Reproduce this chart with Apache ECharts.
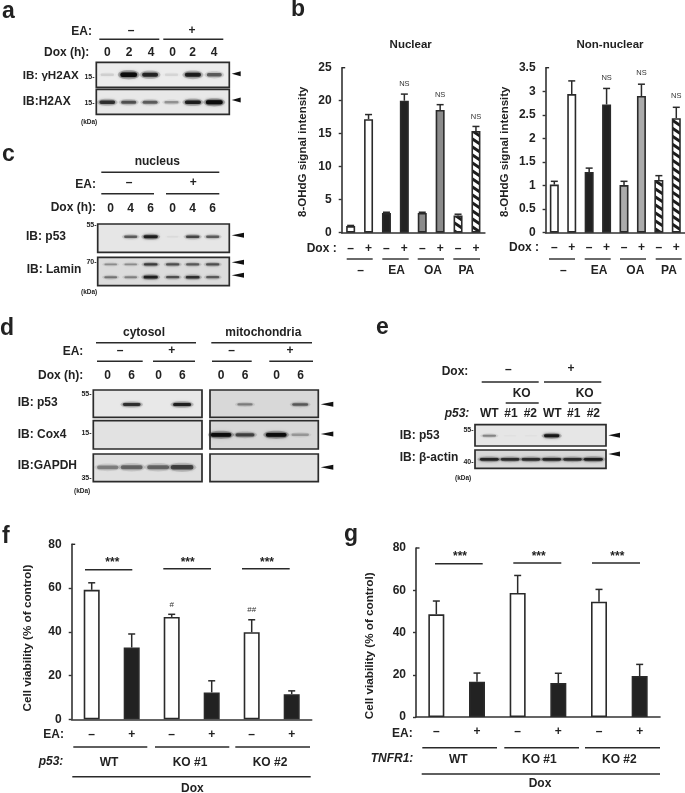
<!DOCTYPE html>
<html>
<head>
<meta charset="utf-8">
<style>
  html, body { margin: 0; padding: 0; background: #fff; }
  #main { width: 685px; height: 793px; }
</style>
<script src="https://cdn.jsdelivr.net/npm/echarts@6/dist/echarts.min.js"></script>
</head>
<body>
<div id="main"></div>
<script>
// bar chart values (b, f, g), top = upper end of the error bar
const doxSigns = ["–", "+", "–", "+", "–", "+", "–", "+"];
const eaSigns = ["–", "+", "–", "+", "–", "+"];
const treatments = ["–", "EA", "OA", "PA"];

const nuclearValues = [1, 17.2, 3, 20, 3, 18.6, 2.6, 15.4];
const nuclearTops = [1.1, 17.9, 3.1, 21, 3.1, 19.4, 2.8, 16.1];
const nuclearNotes = ["", "", "", "NS", "", "NS", "", "NS"];
const nuclearTicks = [0, 5, 10, 15, 20];

const nonNuclearValues = [1.02, 2.94, 1.29, 2.72, 1.01, 2.9, 1.12, 2.43];
const nonNuclearTops = [1.09, 3.22, 1.37, 3.06, 1.09, 3.15, 1.21, 2.66];
const nonNuclearNotes = ["", "", "", "NS", "", "NS", "", "NS"];
const nonNuclearTicks = [0, 0.5, 1, 1.5, 2, 2.5, 3];

const p53Values = [59.2, 32.8, 46.8, 12.3, 39.8, 11.5];
const p53Tops = [62.4, 39, 48, 17.6, 45.5, 13];
const p53Notes = ["", "", "#", "", "##", ""];

const tnfr1Values = [48.6, 16.7, 58.7, 16.1, 54.6, 19.4];
const tnfr1Tops = [54.9, 20.8, 67, 20.7, 60.4, 24.9];
const tnfr1Notes = ["", "", "", "", "", ""];
const viabilityTicks = [0, 20, 40, 60];

// blot band intensities, 0 = no band, 1 = darkest
const aGammaH2ax = [0.1, 0.95, 0.75, 0.08, 0.8, 0.5];
const aH2ax = [0.7, 0.55, 0.5, 0.3, 0.8, 0.98];
const cP53 = [0, 0.5, 0.8, 0.04, 0.6, 0.5];
const cLaminUpper = [0.3, 0.3, 0.65, 0.55, 0.5, 0.55];
const cLaminLower = [0.4, 0.35, 0.8, 0.55, 0.7, 0.5];
const dCytoP53 = [0, 0.7, 0, 0.8];
const dCytoCox4 = [0, 0, 0, 0];
const dCytoGapdh = [0.35, 0.45, 0.45, 0.6];
const dMitoP53 = [0, 0.35, 0, 0.5];
const dMitoCox4 = [0.95, 0.6, 0.95, 0.25];
const dMitoGapdh = [0, 0, 0, 0];
const eP53 = [0.35, 0.02, 0.02, 0.85, 0, 0];
const eActin = [0.75, 0.7, 0.7, 0.75, 0.7, 0.8];

const INK = "#222";
const LINE = "#333";
const FONT = '"Liberation Sans", Arial, sans-serif';

const hatch = () => {
  const c = document.createElement("canvas");
  c.width = 12;
  c.height = 8;
  const g = c.getContext("2d");
  g.fillStyle = "#fff";
  g.fillRect(0, 0, 12, 8);
  g.strokeStyle = "#1c1c1c";
  g.lineWidth = 3;
  g.beginPath();
  for (let i = -16; i <= 16; i += 8) {
    g.moveTo(-12, i - 8);
    g.lineTo(24, i + 16);
  }
  g.stroke();
  return { image: c, repeat: "repeat" };
};

const pattern = hatch();
const fillsB = (grey) => ["#fff", "#fff", "#222", "#222", grey, grey, pattern, pattern];
const fillsF = ["#fff", "#222", "#fff", "#222", "#fff", "#222"];

const grids = [];
const xAxes = [];
const yAxes = [];
const series = [];
const elements = [];

const addBarChart = (box, cfg) => {
  const idx = grids.length;
  grids.push({ left: box[0], top: box[1], width: box[2], height: box[3] });
  xAxes.push({
    gridIndex: idx,
    type: "category",
    data: cfg.signs,
    axisTick: { show: false },
    axisLine: { lineStyle: { color: LINE, width: 1.6 } },
    axisLabel: { interval: 0, margin: cfg.signMargin, color: INK, fontFamily: FONT, fontWeight: "bold", fontSize: 12 }
  });
  yAxes.push({
    gridIndex: idx,
    type: "value",
    min: 0,
    max: cfg.max,
    interval: cfg.interval,
    axisLine: { show: true, lineStyle: { color: LINE, width: 1.6 } },
    axisTick: { show: true, length: 3, customValues: cfg.ticks, lineStyle: { color: LINE, width: 1.4 } },
    axisLabel: { margin: cfg.labelMargin, color: INK, fontFamily: FONT, fontWeight: "bold", fontSize: 12 },
    splitLine: { show: false }
  });
  // the top tick of these axes points inward
  rule(box[0], box[0] + 3.5, box[1], 1.4);
  series.push({
    type: "bar",
    xAxisIndex: idx,
    yAxisIndex: idx,
    barWidth: cfg.barWidth,
    animation: false,
    silent: true,
    data: cfg.values.map((v, i) => ({
      value: v,
      itemStyle: { color: cfg.fills[i], borderColor: "#2a2a2a", borderWidth: 1.6 }
    }))
  });
  series.push({
    type: "custom",
    xAxisIndex: idx,
    yAxisIndex: idx,
    animation: false,
    silent: true,
    clip: false,
    data: cfg.values.map((v, i) => [i, v, cfg.tops[i]]),
    renderItem: (params, api) => {
      const low = api.coord([api.value(0), api.value(1)]);
      const high = api.coord([api.value(0), api.value(2)]);
      const cap = cfg.capWidth / 2;
      const lineStyle = { stroke: "#2a2a2a", lineWidth: 1.5 };
      const children = [
        { type: "line", shape: { x1: low[0], y1: low[1], x2: high[0], y2: high[1] }, style: lineStyle },
        { type: "line", shape: { x1: high[0] - cap, y1: high[1], x2: high[0] + cap, y2: high[1] }, style: lineStyle }
      ];
      const note = cfg.notes[params.dataIndex];
      if (note) {
        children.push({
          type: "text",
          style: {
            text: note,
            x: high[0],
            y: high[1] - cfg.noteGap,
            align: "center",
            verticalAlign: "middle",
            font: `${cfg.noteSize}px ${FONT}`,
            fill: "#333"
          }
        });
      }
      return { type: "group", children };
    }
  });
};

const addBlot = (frame, lanes, bg, rows) => {
  const idx = grids.length;
  const [x, y, w, h, x0, dx] = frame;
  grids.push({
    left: x,
    top: y,
    width: w,
    height: h,
    show: true,
    backgroundColor: bg,
    borderColor: "#2b2b2b",
    borderWidth: 1.7
  });
  xAxes.push({ gridIndex: idx, type: "value", show: false, min: (x - x0) / dx, max: (x + w - x0) / dx });
  yAxes.push({ gridIndex: idx, type: "value", show: false, inverse: true, min: 0, max: 1 });
  rows.forEach((row) => {
    series.push({
      type: "custom",
      xAxisIndex: idx,
      yAxisIndex: idx,
      animation: false,
      silent: true,
      data: row.bands.map((v, i) => [lanes[i], row.at, v]),
      renderItem: (params, api) => {
        const p = api.coord([api.value(0), api.value(1)]);
        const v = api.value(2);
        if (v <= 0) return null;
        const bw = row.w * (0.8 + 0.2 * v);
        const bh = row.h * (0.5 + 0.5 * v);
        const tone = `rgba(10,10,10,${Math.min(1, v)})`;
        const halo = `rgba(30,30,30,${v * 0.25})`;
        return {
          type: "group",
          children: [
            {
              type: "ellipse",
              shape: { cx: p[0], cy: p[1], rx: bw * 0.55, ry: bh * 1.05 },
              style: { fill: halo, shadowBlur: 5, shadowColor: halo }
            },
            {
              type: "rect",
              shape: { x: p[0] - bw / 2 + 1.5, y: p[1] - bh / 2, width: bw - 3, height: bh, r: bh / 2 },
              style: { fill: tone, shadowBlur: 3, shadowColor: tone }
            }
          ]
        };
      }
    });
  });
};

const text = (x, y, str, opts = {}) => {
  const weight = opts.weight || "bold";
  const style = opts.italic ? "italic " : "";
  elements.push({
    type: "text",
    silent: true,
    z: 20,
    x,
    y,
    rotation: opts.rotation || 0,
    style: {
      x: 0,
      y: 0,
      text: str,
      align: opts.align || "center",
      verticalAlign: "middle",
      font: `${style}${weight} ${opts.size || 12}px ${FONT}`,
      fill: opts.fill || INK
    }
  });
};
function rule(x1, x2, y, width = 1.4) {
  elements.push({
    type: "line",
    silent: true,
    z: 20,
    shape: { x1, y1: y, x2, y2: y },
    style: { stroke: "#2a2a2a", lineWidth: width }
  });
}
const arrow = (x1, x2, y, half = 2.5) => {
  elements.push({
    type: "polygon",
    silent: true,
    z: 20,
    shape: { points: [[x1, y], [x2, y - half], [x2, y + half]] },
    style: { fill: "#111" }
  });
};
const panel = (x, y, str) => text(x, y, str, { align: "left", size: 23 });
const right = (x, y, str, opts = {}) => text(x, y, str, { align: "right", ...opts });
const left = (x, y, str, opts = {}) => text(x, y, str, { align: "left", ...opts });
const marker = (x, y, str) => right(x, y, str, { size: 7 });
const kda = (x, y) => left(x, y, "(kDa)", { size: 6.5 });
const row = (xs, y, labels) => xs.forEach((x, i) => text(x, y, labels[i]));
const yTitle = (x, y, str, size) => text(x, y, str, { size, rotation: Math.PI / 2 });

// panel a
panel(2, 12, "a");
right(92, 32, "EA:");
text(131, 31, "–");
text(192, 31, "+");
rule(99.3, 159.3, 39.3);
rule(163.3, 223.3, 39.3);
right(89.3, 52.3, "Dox (h):");
row([107.3, 129, 151, 172.7, 192.7, 214], 52.7, ["0", "2", "4", "0", "2", "4"]);
left(22.7, 76, "IB: γH2AX", { size: 11.6 });
left(22.7, 101.7, "IB:H2AX");
marker(94.5, 77, "15-");
marker(94.5, 103, "15-");
kda(81, 122);
arrow(231.7, 240.7, 73.7);
arrow(231.7, 240.7, 100);
addBlot([96.3, 62.3, 133, 25, 107.3, 21.4], [0, 1, 2, 3, 4, 5], "#ececec", [{ at: 0.5, bands: aGammaH2ax, w: 20, h: 4.6 }]);
addBlot([96.3, 89.3, 133, 25, 107.3, 21.4], [0, 1, 2, 3, 4, 5], "#e8e8e8", [{ at: 0.52, bands: aH2ax, w: 20, h: 4 }]);

// panel b
panel(291, 10, "b");
text(410.7, 45, "Nuclear", { size: 11.5 });
text(610, 45, "Non-nuclear", { size: 11.5 });
yTitle(302.7, 151.7, "8-OHdG signal intensity", 11.5);
yTitle(505, 151.7, "8-OHdG signal intensity", 11.5);
right(336.7, 249, "Dox :");
right(539, 248, "Dox :");
[[346.7, 372.7], [382.3, 408.7], [417.7, 444], [453.3, 480]].forEach((r) => rule(r[0], r[1], 259));
[[549, 575], [584.7, 610.7], [620, 646], [655.7, 681.7]].forEach((r) => rule(r[0], r[1], 259));
row([360.7, 396.7, 433, 466.3], 271, treatments);
row([563.3, 599, 635.3, 669], 271, treatments);
addBarChart([341.7, 67.7, 143.2, 165], {
  signs: doxSigns, values: nuclearValues, tops: nuclearTops, notes: nuclearNotes, fills: fillsB("#8b8b8b"),
  max: 25, interval: 5, ticks: nuclearTicks, signMargin: 10,
  labelMargin: 10, barWidth: 9, capWidth: 7, noteGap: 10, noteSize: 7.5
});
addBarChart([545.6, 67.7, 139.4, 165], {
  signs: doxSigns, values: nonNuclearValues, tops: nonNuclearTops, notes: nonNuclearNotes, fills: fillsB("#ababab"),
  max: 3.5, interval: 0.5, ticks: nonNuclearTicks, signMargin: 9,
  labelMargin: 10, barWidth: 9, capWidth: 7, noteGap: 11, noteSize: 7.5
});

// panel c
panel(2, 155, "c");
text(157.3, 161.3, "nucleus");
rule(101.3, 219.3, 172.3);
right(96, 184.3, "EA:");
text(129, 183, "–");
text(193.3, 183, "+");
rule(101.3, 154, 193.7);
rule(166, 219.3, 193.7);
right(96, 207.3, "Dox (h):");
row([110.7, 130.7, 150.7, 172.7, 192.7, 212.7], 208.7, ["0", "4", "6", "0", "4", "6"]);
left(26, 236.7, "IB: p53");
left(26.7, 269.3, "IB: Lamin");
marker(96.5, 225, "55-");
marker(96.5, 262.3, "70-");
kda(81, 292.7);
arrow(231.7, 244, 235.3);
arrow(231.7, 244, 262.3);
arrow(231.7, 244, 275.3);
addBlot([97.7, 224, 131.6, 28.3, 110.7, 20], [0, 1, 2, 3.1, 4.1, 5.1], "#e6e6e6", [{ at: 0.45, bands: cP53, w: 18, h: 3.2 }]);
addBlot([97.7, 257.3, 131.6, 28.4, 110.7, 20], [0, 1, 2, 3.1, 4.1, 5.1], "#dcdcdc", [
  { at: 0.25, bands: cLaminUpper, w: 18, h: 2.8 },
  { at: 0.7, bands: cLaminLower, w: 18, h: 3 }
]);

// panel d
panel(0, 329, "d");
text(144, 332.7, "cytosol");
text(263.3, 332.7, "mitochondria");
rule(96, 196, 342.7);
rule(211.3, 312, 342.7);
right(83.3, 351.7, "EA:");
row([120, 171.7, 231.7, 290], 351, ["–", "+", "–", "+"]);
rule(97, 142.7, 361.3);
rule(153, 195, 361.3);
rule(212, 251.7, 361.3);
rule(269.3, 313, 361.3);
right(83.3, 375.3, "Dox (h):");
row([107.7, 131.7, 158.7, 182.3, 221, 245, 276.7, 300.7], 376, ["0", "6", "0", "6", "0", "6", "0", "6"]);
left(17.7, 403, "IB: p53");
left(17.7, 435, "IB: Cox4");
left(17.7, 465.3, "IB:GAPDH");
marker(91.5, 393.7, "55-");
marker(91.5, 432.7, "15-");
marker(91.5, 477.7, "35-");
kda(74, 491.7);
arrow(320.7, 333.3, 404.3);
arrow(320.7, 333.3, 434);
arrow(320.7, 333.3, 467.3);
const cytoLanes = [0, 1, 2.1, 3.1];
const mitoLanes = [0, 1, 2.3, 3.3];
addBlot([93.3, 390, 108.7, 27.3, 107.7, 24], cytoLanes, "#e8e8e8", [{ at: 0.53, bands: dCytoP53, w: 22, h: 3.4 }]);
addBlot([93.3, 420.7, 108.7, 28.3, 107.7, 24], cytoLanes, "#e2e2e2", [{ at: 0.5, bands: dCytoCox4, w: 21, h: 4 }]);
addBlot([93.3, 454, 108.7, 27.7, 107.7, 24], cytoLanes, "#e0e0e0", [{ at: 0.48, bands: dCytoGapdh, w: 28, h: 5.5 }]);
addBlot([210, 390, 108.3, 27.3, 221, 24], mitoLanes, "#d8d8d8", [{ at: 0.53, bands: dMitoP53, w: 21, h: 3.4 }]);
addBlot([210, 420.7, 108.3, 28.3, 221, 24], mitoLanes, "#d8d8d8", [{ at: 0.5, bands: dMitoCox4, w: 24, h: 4 }]);
addBlot([210, 454, 108.3, 27.7, 221, 24], mitoLanes, "#e2e2e2", [{ at: 0.46, bands: dMitoGapdh, w: 21, h: 4 }]);

// panel e
panel(376, 328, "e");
right(468.3, 371.3, "Dox:");
text(508.3, 370, "–");
text(571, 369, "+");
rule(481.7, 538.7, 382);
rule(544, 601.3, 382);
text(521.7, 393.3, "KO");
text(584.7, 393.3, "KO");
rule(505.7, 538.7, 403);
rule(568.3, 601.3, 403);
right(469.3, 413.7, "p53:", { italic: true });
row([489.3, 511, 530.3, 552.3, 573.7, 593.3], 414, ["WT", "#1", "#2", "WT", "#1", "#2"]);
left(399.7, 435.7, "IB: p53");
left(399.7, 457.3, "IB: β-actin");
marker(473.5, 429.7, "55-");
marker(473.5, 462.3, "40-");
kda(455, 478);
arrow(608.3, 620, 435.3);
arrow(608.3, 620, 454);
addBlot([475, 424.7, 131, 21.3, 489.3, 20.8], [0, 1, 2, 3, 4, 5], "#e6e6e6", [{ at: 0.52, bands: eP53, w: 19, h: 3.2 }]);
addBlot([475, 450, 131, 18.3, 489.3, 20.8], [0, 1, 2, 3, 4, 5], "#d8d8d8", [{ at: 0.51, bands: eActin, w: 23, h: 3.2 }]);

// panel f
panel(2, 537, "f");
yTitle(27.3, 638, "Cell viability (% of control)", 11.7);
right(64, 734.3, "EA:");
rule(73.3, 147.3, 747);
rule(155, 229.3, 747);
rule(235.3, 310, 747);
right(63.3, 761.7, "p53:", { italic: true });
row([109, 190, 270], 762.7, ["WT", "KO #1", "KO #2"]);
rule(72.3, 310.7, 776.7);
text(192.3, 788.7, "Dox");
rule(85, 132.3, 569.7);
rule(163.3, 211, 568.7);
rule(242, 289.7, 568.7);
row([112.3, 187.7, 267], 562.7, ["***", "***", "***"]);
addBarChart([71.7, 544.3, 240, 175], {
  signs: eaSigns, values: p53Values, tops: p53Tops, notes: p53Notes, fills: fillsF,
  max: 80, interval: 20, ticks: viabilityTicks, signMargin: 9,
  labelMargin: 10, barWidth: 16, capWidth: 7, noteGap: 9.5, noteSize: 8
});

// panel g
panel(344, 535, "g");
yTitle(369.3, 645.8, "Cell viability (% of control)", 11.7);
right(412.7, 734, "EA:");
rule(422.3, 497, 747.7);
rule(504.3, 579, 747.7);
rule(585, 660, 747.7);
right(413.3, 758.7, "TNFR1:", { italic: true });
row([458.3, 539.3, 619.3], 759.5, ["WT", "KO #1", "KO #2"]);
rule(421.7, 660, 774);
text(540, 784, "Dox");
rule(435, 482.7, 563.7);
rule(513.3, 561.3, 563);
rule(592, 640, 563);
row([460, 538.7, 617.3], 556.7, ["***", "***", "***"]);
addBarChart([416, 548, 244, 169], {
  signs: eaSigns, values: tnfr1Values, tops: tnfr1Tops, notes: tnfr1Notes, fills: fillsF,
  max: 80, interval: 20, ticks: viabilityTicks, signMargin: 9,
  labelMargin: 10, barWidth: 16, capWidth: 7, noteGap: 10, noteSize: 8
});

const chart = echarts.init(document.getElementById("main"));
chart.setOption({
  animation: false,
  backgroundColor: "#fff",
  grid: grids,
  xAxis: xAxes,
  yAxis: yAxes,
  series,
  graphic: { elements }
});
</script>
</body>
</html>
